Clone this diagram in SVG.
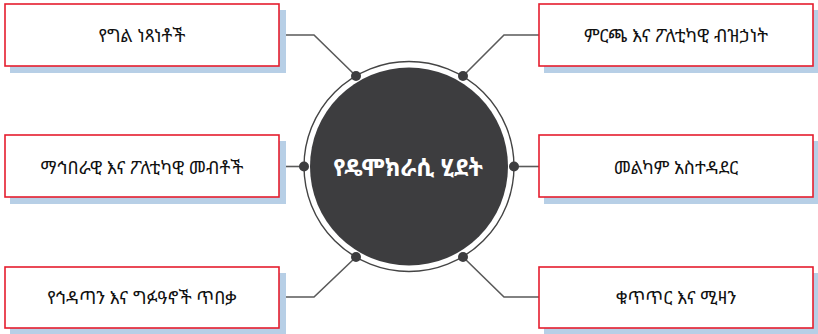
<svg xmlns="http://www.w3.org/2000/svg" width="818" height="334" viewBox="0 0 818 334">
<style>
.shadow{fill:#b7cfe6}
.box{fill:#fff;stroke:#e51d2e;stroke-width:1.6}
.lbl{font-family:"Noto Sans Ethiopic","Noto Sans","DejaVu Sans",sans-serif;font-size:18px;fill:#111;text-anchor:middle;dominant-baseline:central}
.conn{fill:none;stroke:#5a5a5a;stroke-width:1.6}
.dot{fill:#3d3d3f}
</style>
<rect width="818" height="334" fill="#fff"/>
<g id="connectors">
<polyline class="conn" points="279,35 314,35 356,76"/>
<polyline class="conn" points="539,35 504,35 463,76"/>
<polyline class="conn" points="279,166.5 304,166.5"/>
<polyline class="conn" points="539,166.5 514,166.5"/>
<polyline class="conn" points="279,297 314,297 356,257"/>
<polyline class="conn" points="539,297 504,297 463,257"/>
</g>
<g id="center">
<circle cx="409" cy="166.5" r="105" fill="#fff" stroke="#444" stroke-width="1.4"/>
<circle cx="409" cy="166.5" r="99" fill="#3d3d3f"/>
<text x="408" y="166.5" style="font-family:'Noto Sans Ethiopic','Noto Sans','DejaVu Sans',sans-serif;font-size:23.5px;font-weight:bold;fill:#fff;text-anchor:middle;dominant-baseline:central">የዴሞክራሲ ሂደት</text>
<circle class="dot" cx="356" cy="76" r="5"/>
<circle class="dot" cx="463" cy="76" r="5"/>
<circle class="dot" cx="304" cy="166.5" r="5"/>
<circle class="dot" cx="514" cy="166.5" r="5"/>
<circle class="dot" cx="356" cy="257" r="5"/>
<circle class="dot" cx="463" cy="257" r="5"/>
</g>
<g id="n1">
<rect class="shadow" x="10" y="10" width="276" height="63"/>
<rect class="box" x="5" y="4" width="274" height="62"/>
<text class="lbl" x="142" y="35">የግል ነጻነቶች</text>
</g>
<g id="n2">
<rect class="shadow" x="544" y="10" width="276" height="63"/>
<rect class="box" x="539" y="4" width="274" height="62"/>
<text class="lbl" x="676" y="35">ምርጫ እና ፖለቲካዊ ብዝኃነት</text>
</g>
<g id="n3">
<rect class="shadow" x="10" y="141" width="276" height="63"/>
<rect class="box" x="5" y="135" width="274" height="62"/>
<text class="lbl" x="142" y="166.5">ማኅበራዊ እና ፖለቲካዊ መብቶች</text>
</g>
<g id="n4">
<rect class="shadow" x="544" y="141" width="276" height="63"/>
<rect class="box" x="539" y="135" width="274" height="62"/>
<text class="lbl" x="676" y="166.5">መልካም አስተዳደር</text>
</g>
<g id="n5">
<rect class="shadow" x="10" y="273" width="276" height="63"/>
<rect class="box" x="5" y="267" width="274" height="61"/>
<text class="lbl" x="142" y="297">የኅዳጣን እና ግፉዓኖች ጥበቃ</text>
</g>
<g id="n6">
<rect class="shadow" x="544" y="273" width="276" height="63"/>
<rect class="box" x="539" y="267" width="274" height="61"/>
<text class="lbl" x="676" y="297">ቁጥጥር እና ሚዛን</text>
</g>
</svg>
